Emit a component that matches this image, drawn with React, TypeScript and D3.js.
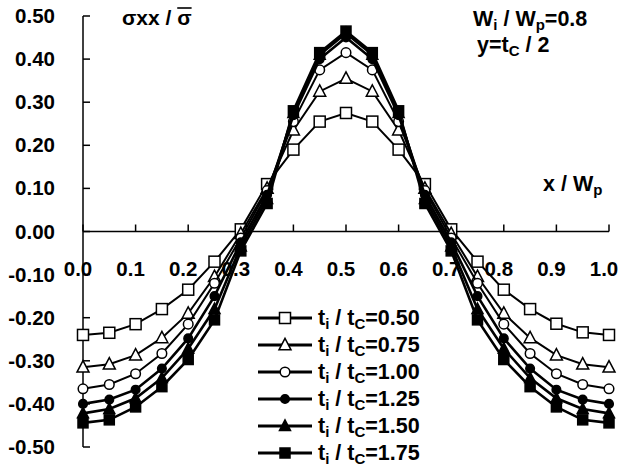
import { useEffect, useRef } from 'react'
import * as d3 from 'd3'

const X_POS = [0, 0.05, 0.1, 0.15, 0.2, 0.25, 0.3, 0.35, 0.4, 0.45, 0.5, 0.55, 0.6, 0.65, 0.7, 0.75, 0.8, 0.85, 0.9, 0.95, 1.0]

const S050 = [-0.24, -0.235, -0.215, -0.18, -0.135, -0.07, 0.005, 0.11, 0.19, 0.255, 0.275, 0.255, 0.19, 0.11, 0.005, -0.07, -0.135, -0.18, -0.214, -0.234, -0.24]
const S075 = [-0.315, -0.308, -0.287, -0.247, -0.19, -0.105, -0.005, 0.1, 0.235, 0.325, 0.355, 0.325, 0.235, 0.1, -0.005, -0.105, -0.19, -0.247, -0.287, -0.308, -0.315]
const S100 = [-0.365, -0.355, -0.33, -0.283, -0.215, -0.12, -0.015, 0.095, 0.255, 0.375, 0.415, 0.375, 0.255, 0.095, -0.015, -0.12, -0.215, -0.283, -0.33, -0.355, -0.365]
const S125 = [-0.4, -0.39, -0.367, -0.318, -0.248, -0.15, -0.025, 0.085, 0.27, 0.4, 0.45, 0.4, 0.27, 0.085, -0.025, -0.15, -0.248, -0.318, -0.367, -0.39, -0.4]
const S150 = [-0.422, -0.412, -0.387, -0.34, -0.272, -0.18, -0.035, 0.075, 0.275, 0.41, 0.46, 0.41, 0.275, 0.075, -0.035, -0.18, -0.272, -0.34, -0.387, -0.412, -0.422]
const S175 = [-0.444, -0.437, -0.407, -0.36, -0.297, -0.205, -0.045, 0.065, 0.28, 0.415, 0.465, 0.415, 0.28, 0.065, -0.045, -0.205, -0.297, -0.36, -0.407, -0.437, -0.444]

const SERIES_LABELS = ['0.50', '0.75', '1.00', '1.25', '1.50', '1.75']
const SERIES_VALUES = [S050, S075, S100, S125, S150, S175]
const MARKERS = ['square', 'triangle', 'circle', 'circle', 'triangle', 'square']
const FILLED = [false, false, false, true, true, true]

const Y_TICKS = [0.5, 0.4, 0.3, 0.2, 0.1, 0, -0.1, -0.2, -0.3, -0.4, -0.5]
const X_TICKS = [0, 0.1, 0.2, 0.3, 0.4, 0.5, 0.6, 0.7, 0.8, 0.9, 1.0]

const FONT = '"Liberation Sans", Arial, Helvetica, sans-serif'

export default function App() {
  const svgRef = useRef<SVGSVGElement>(null)

  useEffect(() => {
    if (!svgRef.current) return
    const W = 622
    const H = 468
    const svg = d3.select(svgRef.current).attr('viewBox', `0 0 ${W} ${H}`)
    svg.selectAll('*').remove()

    const xScale = d3.scaleLinear().domain([0, 1]).range([83, 609])
    const yScale = d3.scaleLinear().domain([-0.5, 0.5]).range([447, 16])

    const g = svg.append('g')

    // axes
    g.append('line').attr('x1', xScale(0)).attr('x2', xScale(0))
      .attr('y1', yScale(0.5)).attr('y2', yScale(-0.5))
      .attr('stroke', '#000').attr('stroke-width', 1.5)
    Y_TICKS.forEach((t) => {
      g.append('line').attr('x1', xScale(0)).attr('x2', xScale(0) + 7)
        .attr('y1', yScale(t)).attr('y2', yScale(t))
        .attr('stroke', '#000').attr('stroke-width', 1.5)
      g.append('text').attr('x', 55).attr('y', yScale(t) + 7)
        .attr('text-anchor', 'end').attr('font-family', FONT).attr('font-weight', 700)
        .attr('font-size', 20.5).text(t.toFixed(2))
    })
    g.append('line').attr('x1', xScale(0)).attr('x2', xScale(1))
      .attr('y1', yScale(0)).attr('y2', yScale(0))
      .attr('stroke', '#000').attr('stroke-width', 1.5)
    X_TICKS.forEach((t) => {
      g.append('line').attr('x1', xScale(t)).attr('x2', xScale(t))
        .attr('y1', yScale(0)).attr('y2', yScale(0) - 7)
        .attr('stroke', '#000').attr('stroke-width', 1.5)
      g.append('text').attr('x', xScale(t) - 5).attr('y', 276)
        .attr('text-anchor', 'middle').attr('font-family', FONT).attr('font-weight', 700)
        .attr('font-size', 20.5).text(t.toFixed(1))
    })

    const line = d3.line<number>().x((_, i) => xScale(X_POS[i])).y((d) => yScale(d))

    const drawMarker = (sel: d3.Selection<SVGGElement, unknown, null, undefined>, kind: string, filled: boolean, cx: number, cy: number) => {
      const fill = filled ? '#000' : '#fff'
      const sw = 1.5
      if (kind === 'square') {
        const s = filled ? 10 : 11
        sel.append('rect').attr('x', cx - s / 2).attr('y', cy - s / 2).attr('width', s).attr('height', s)
          .attr('fill', fill).attr('stroke', '#000').attr('stroke-width', sw)
      } else if (kind === 'triangle') {
        const s = filled ? 11 : 12
        const pts = [[cx, cy - s * 0.55], [cx - s / 2, cy + s * 0.4], [cx + s / 2, cy + s * 0.4]]
        sel.append('polygon').attr('points', pts.map((p) => p.join(',')).join(' '))
          .attr('fill', fill).attr('stroke', '#000').attr('stroke-width', sw)
      } else {
        sel.append('circle').attr('cx', cx).attr('cy', cy).attr('r', filled ? 4.3 : 4.8)
          .attr('fill', fill).attr('stroke', '#000').attr('stroke-width', sw)
      }
    }

    SERIES_VALUES.forEach((vals, si) => {
      const sg = g.append('g')
      sg.append('path').datum(vals).attr('d', line)
        .attr('fill', 'none').attr('stroke', '#000').attr('stroke-width', FILLED[si] ? 2.6 : 2)
      vals.forEach((v, i) => drawMarker(sg, MARKERS[si], FILLED[si], xScale(X_POS[i]), yScale(v)))
    })

    // legend
    const legY0 = 318
    const legStep = 27
    SERIES_LABELS.forEach((lab, i) => {
      const y = legY0 + i * legStep
      const lg = g.append('g')
      lg.append('line').attr('x1', 258).attr('x2', 312).attr('y1', y).attr('y2', y)
        .attr('stroke', '#000').attr('stroke-width', 3)
      drawMarker(lg, MARKERS[i], FILLED[i], 285, y)
      const t = lg.append('text').attr('x', 318).attr('y', y + 7)
        .attr('font-family', FONT).attr('font-weight', 700).attr('font-size', 21.5)
      t.append('tspan').text('t')
      t.append('tspan').attr('font-size', 15).attr('dy', 4).text('i')
      t.append('tspan').attr('dy', -4).text(' / t')
      t.append('tspan').attr('font-size', 15).attr('dy', 4).text('C')
      t.append('tspan').attr('dy', -4).text(`=${lab}`)
    })

    // annotations
    const ann = g.append('text').attr('x', 122).attr('y', 25)
      .attr('font-family', FONT).attr('font-weight', 700).attr('font-size', 21)
    ann.append('tspan').text('σxx / ')
    const sig = ann.append('tspan').text('σ')
    const sigNode = sig.node() as SVGTSpanElement
    const annNode = ann.node() as SVGTextElement
    const total = annNode.getComputedTextLength()
    const sw = sigNode.getComputedTextLength()
    g.append('line').attr('x1', 122 + total - sw).attr('x2', 122 + total).attr('y1', 8).attr('y2', 8)
      .attr('stroke', '#000').attr('stroke-width', 1.6)

    const w = g.append('text').attr('x', 473).attr('y', 26)
      .attr('font-family', FONT).attr('font-weight', 700).attr('font-size', 21.5)
    w.append('tspan').text('W')
    w.append('tspan').attr('font-size', 15).attr('dy', 4).text('i')
    w.append('tspan').attr('dy', -4).text(' / W')
    w.append('tspan').attr('font-size', 15).attr('dy', 4).text('p')
    w.append('tspan').attr('dy', -4).text('=0.8')

    const yl = g.append('text').attr('x', 477).attr('y', 52)
      .attr('font-family', FONT).attr('font-weight', 700).attr('font-size', 21.5)
    yl.append('tspan').text('y=t')
    yl.append('tspan').attr('font-size', 15).attr('dy', 4).text('C')
    yl.append('tspan').attr('dy', -4).text(' / 2')

    const xl = g.append('text').attr('x', 543).attr('y', 191)
      .attr('font-family', FONT).attr('font-weight', 700).attr('font-size', 21.5)
    xl.append('tspan').text('x / W')
    xl.append('tspan').attr('font-size', 15).attr('dy', 4).text('p')

    return () => { svg.selectAll('*').remove() }
  }, [])

  return (
    <svg ref={svgRef} width={622} height={468}
      style={{ position: 'absolute', left: 0, top: 0, background: '#fff' }} />
  )
}
